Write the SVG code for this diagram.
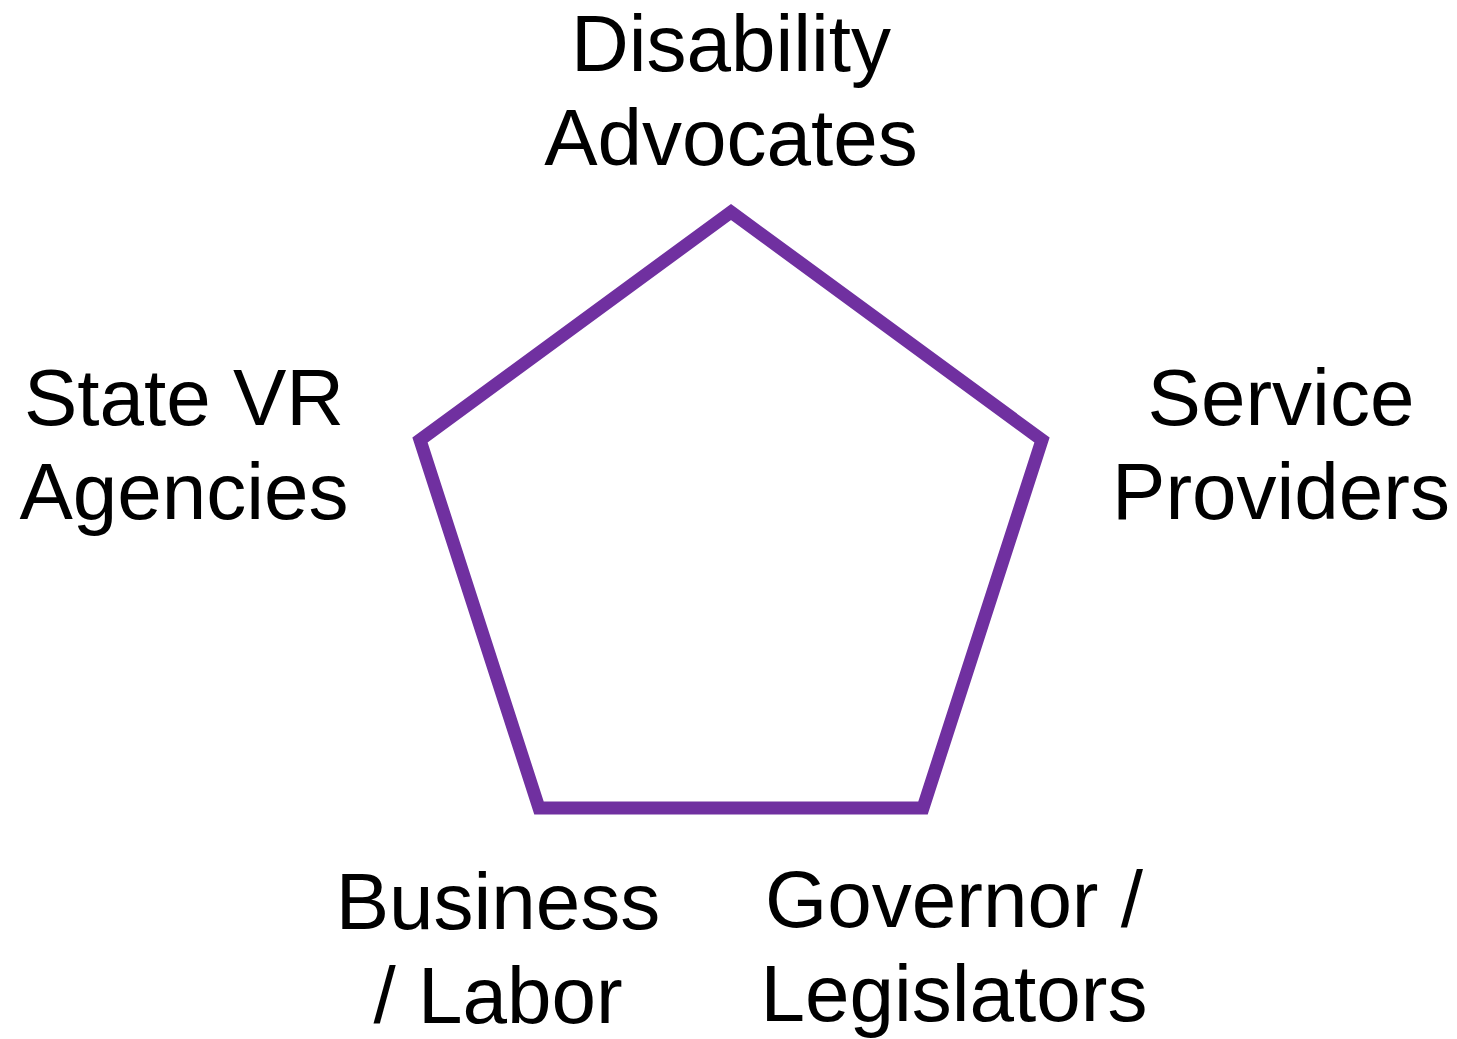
<svg xmlns="http://www.w3.org/2000/svg" width="1457" height="1039" viewBox="0 0 1457 1039">
<style>
.lbl{font-family:"Liberation Sans",Arial,sans-serif;font-size:80px;fill:#000;text-anchor:middle}
.shape{fill:none;stroke:#7030A0;stroke-width:13;stroke-linejoin:miter}
</style>
<rect width="1457" height="1039" fill="#fff"/>
<g id="pentagon">
<polygon class="shape" points="731,212 1042,440 923,808 539,808 420,440"/>
</g>
<g id="connectors"></g>
<g id="disability-advocates">
<text class="lbl" x="731" y="71">Disability</text>
<text class="lbl" x="731" y="165">Advocates</text>
</g>
<g id="state-vr-agencies">
<text class="lbl" x="184" y="425">State VR</text>
<text class="lbl" x="184" y="519">Agencies</text>
</g>
<g id="service-providers">
<text class="lbl" x="1281" y="425">Service</text>
<text class="lbl" x="1281" y="519">Providers</text>
</g>
<g id="business-labor">
<text class="lbl" x="498" y="929">Business</text>
<text class="lbl" x="498" y="1023">/ Labor</text>
</g>
<g id="governor-legislators">
<text class="lbl" x="954" y="927">Governor /</text>
<text class="lbl" x="954" y="1021">Legislators</text>
</g>
</svg>
